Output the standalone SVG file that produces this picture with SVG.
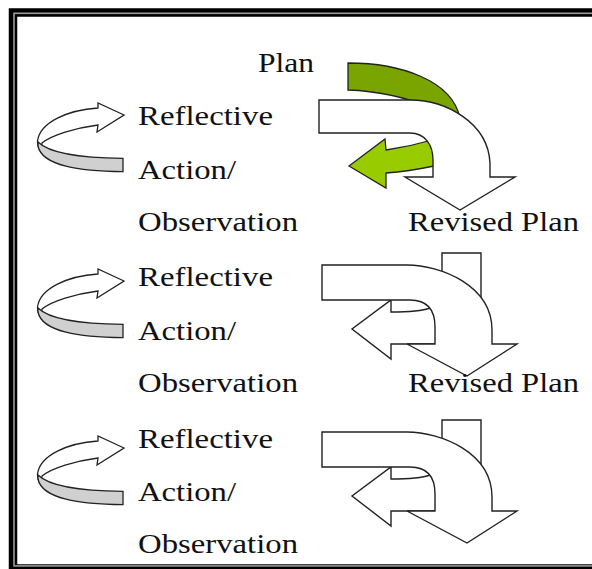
<svg xmlns="http://www.w3.org/2000/svg" width="592" height="569" viewBox="0 0 592 569">
<style>
.t{font-family:"Liberation Serif","Times New Roman",serif;font-size:28px;fill:#111}
.w{fill:#fff;stroke:#222;stroke-width:1.4;stroke-linejoin:miter}
.g{fill:#d0d0d0;stroke:#222;stroke-width:1.3}
.gl{fill:#ffffff;stroke:#222;stroke-width:1.3}
.dk{fill:#7aa400;stroke:#222;stroke-width:1.3}
.lt{fill:#99cc00;stroke:#222;stroke-width:1.3}
</style>
<defs>
<g id="loop">
<path class="gl" d="M98,108 C68,110 40,122 37.5,141 C37.5,146 39,149 41,151 L42,143 C52,135 75,128 98,125 L97,132 L124,115 L98,103 Z"/>
<path class="g" d="M38,142 C50,154 85,158 123,158.3 L123,171.7 C80,171 42,166 38,146 Z"/>
</g>
<g id="turn">
<path class="w" d="M442,253 L481,253 L481,300 C481,328 462,344 435,344 L391,344 L391,359 L352,329 L391,300 L391,312 C408,312 422,311 430,308 C440,300 442,290 442,275 Z"/>
<path class="w" d="M322,265 L407,265 C440,265 492,285 492,330 L492,344 L517,344 L467,376 L407,344 L435,344 L435,327 C435,310 428,300 410,300 L322,300 Z"/>
</g>
</defs>
<rect width="592" height="569" fill="#fff"/>
<g id="frame" fill="none">
<rect x="13" y="12.5" width="700" height="556" stroke="#000" stroke-width="8.5"/>
<rect x="14" y="13.3" width="700" height="552.6" stroke="#9a9a9a" stroke-width="1.6"/>
</g>
<g id="row1-loop"><use href="#loop"/></g>
<g id="row2-loop"><use href="#loop" transform="translate(0,166)"/></g>
<g id="row3-loop"><use href="#loop" transform="translate(0,333)"/></g>
<g id="row1-cycle">
<path class="dk" d="M348,63 C400,63 452,80 460,118 L470,150 L445,150 L432,108 C410,99 380,91 348,90 Z"/>
<path class="lt" d="M349,166 L385,139 L386,150 C400,148 415,145 432,140 L445,150 L440,166 L434,166 C415,170 400,172 386,173 L386,188 Z"/>
<path class="w" d="M319,100 L410,100 C445,100 488,122 490,163 L490,177 L515,177 L460,210 L405,177 L433,177 L433,160 C433,145 425,133 410,133 L319,133 Z"/>
</g>
<g id="row2-cycle"><use href="#turn"/></g>
<g id="row3-cycle"><use href="#turn" transform="translate(0,167)"/></g>
<g id="labels">
<text class="t" x="258" y="72" textLength="56" lengthAdjust="spacingAndGlyphs">Plan</text>
<text class="t" x="138" y="125" textLength="135" lengthAdjust="spacingAndGlyphs">Reflective</text>
<text class="t" x="138" y="179" textLength="98" lengthAdjust="spacingAndGlyphs">Action/</text>
<text class="t" x="138" y="231" textLength="160" lengthAdjust="spacingAndGlyphs">Observation</text>
<text class="t" x="408" y="231" textLength="171" lengthAdjust="spacingAndGlyphs">Revised Plan</text>
<text class="t" x="138" y="286" textLength="135" lengthAdjust="spacingAndGlyphs">Reflective</text>
<text class="t" x="138" y="340" textLength="98" lengthAdjust="spacingAndGlyphs">Action/</text>
<text class="t" x="138" y="392" textLength="160" lengthAdjust="spacingAndGlyphs">Observation</text>
<text class="t" x="408" y="392" textLength="171" lengthAdjust="spacingAndGlyphs">Revised Plan</text>
<text class="t" x="138" y="448" textLength="135" lengthAdjust="spacingAndGlyphs">Reflective</text>
<text class="t" x="138" y="501" textLength="98" lengthAdjust="spacingAndGlyphs">Action/</text>
<text class="t" x="138" y="553" textLength="160" lengthAdjust="spacingAndGlyphs">Observation</text>
</g>
</svg>
